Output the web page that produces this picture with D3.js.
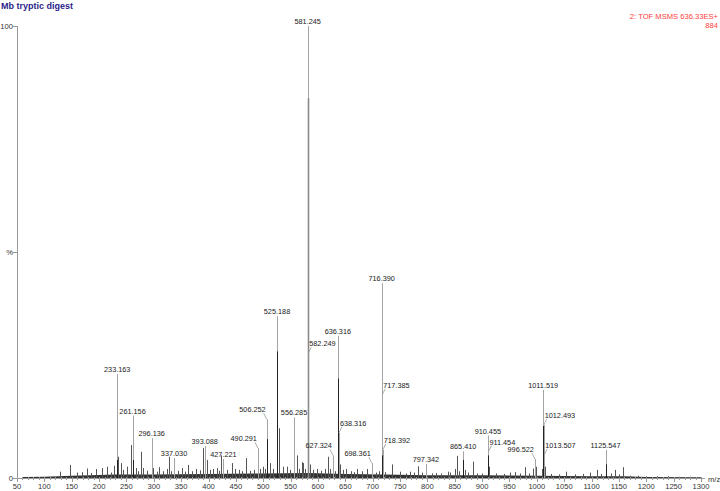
<!DOCTYPE html>
<html><head><meta charset="utf-8">
<script src="https://cdn.jsdelivr.net/npm/d3@7"></script>
<style>body{margin:0;background:#fff}svg{display:block;font-family:"Liberation Sans",Arial,sans-serif}</style>
</head><body><svg id="c" width="720" height="491"></svg>
<script>
// ---- data ----
const title = "Mb tryptic digest";
const infoLines = ["2: TOF MSMS 636.33ES+", "884"];
const xTicks = [50,100,150,200,250,300,350,400,450,500,550,600,650,700,750,800,850,900,950,1000,1050,1100,1150,1200,1250,1300];
const yTicks = [0,50,100];
const yTickLabels = ["0","%","100"];
// labelled peaks: m/z and relative intensity (%)
const peakMz  = [233.163,261.156,296.136,337.030,393.088,427.221,490.291,506.252,525.188,556.285,581.245,582.249,627.324,636.316,638.316,698.361,716.390,717.385,718.392,797.342,865.410,910.455,911.454,996.522,1011.519,1012.493,1013.507,1125.547];
const peakInt = [23.0,13.8,8.8,4.4,7.1,4.2,6.6,13.0,35.8,13.4,100,27.6,5.0,31.4,10.0,3.3,43.1,18.4,6.2,3.1,5.9,9.4,5.8,4.2,19.5,11.7,5.1,6.2];
// dark profile cores of the big peaks
const coreMz  = [581.0,525.15,636.2,1011.6,716.5,910.5,233.2,261.2,1125.6,865.4,506.3,717.5];
const coreInt = [84,28,22,11.5,4,5,4,4,3,4,8.6,5];
// small unlabelled peaks
const minorMz  = [128,147,160,168,178,186,195,205,215,222,227,235.3,239.5,244,250.5,258.3,262.5,266.9,272,276.6,281,288,299,305,310,316,323.5,328,332,345,351,357,363,370,378,384,390.4,396.6,402,408.7,415.9,420,423,434,443,448,455,461,468.5,476,483,494,499,503,512,518,529,536.6,543,549,561,566,570,572,577,585,591,598,605,612,618.7,622,631,640,645,652,660,666,672,680,690,706,712,719,723,736,750,760,768,775,783,790,808,815,825,838,842,850,853.4,857,868,875,883.7,890,900,913,926,940,951,961,970,979,985,993,998,1009,1014,1025,1040,1054,1070,1085,1097.6,1109.8,1118,1127,1135,1142.6,1150,1157.8,1170,1185,1200,1220,1240,1260,1280];
const minorInt = [1.4,2.9,1.2,1.3,2.1,1.1,2.0,2.2,2.5,1.2,2.7,4.7,3.3,1.8,2.5,7.3,2.5,2.2,1.5,5.8,2.2,1.6,2.2,1.4,2.4,1.5,2.0,4.7,1.5,1.6,2.2,1.4,2.9,1.5,2.0,1.7,6.6,4.0,1.8,2.0,2.2,1.6,5.0,1.8,3.3,2.0,1.8,1.5,4.4,1.6,1.8,2.0,2.5,2.0,3.3,2.0,11,2.5,2.5,1.8,5.0,2.0,3.5,3.3,2.0,3.0,1.8,2.0,1.6,2.0,4.7,2.0,1.5,3.0,1.8,2.0,1.5,1.3,2.0,1.5,2.0,1.2,1.5,4.0,1.3,3.0,1.4,1.0,1.4,1.2,2.6,1.2,1.0,1.1,1.0,1.4,1.2,2.0,4.9,1.5,1.8,1.2,3.6,1.0,1.0,2.5,1.0,0.9,1.2,1.3,1.0,2.4,1.0,2.1,2.5,2.0,2.5,0.9,0.8,1.4,0.8,0.9,1.2,1.8,0.9,3.0,1.0,1.8,0.8,2.4,0.5,0.5,0.4,0.4,0.4,0.3,0.3];
// baseline noise floor (%)
const noiseMz  = [60,100,150,230,300,400,500,580,650,720,800,900,1000,1100,1160,1200,1300];
const noiseInt = [0.2,0.3,0.5,0.8,0.8,0.9,1.0,1.1,0.9,0.8,0.6,0.6,0.5,0.4,0.4,0.2,0.15];
// label placement style: c = centred above, l = to the right with leader, r = to the left with leader
const labelMode = {"490.291":"r","506.252":"r","582.249":"l","627.324":"r","638.316":"l","698.361":"r","717.385":"l","718.392":"l","911.454":"l","996.522":"r","1012.493":"l","1013.507":"l"};

// ---- drawing ----
const svg = d3.select("#c");
const x = d3.scaleLinear().domain([50,1300]).range([17,701]);
const y = d3.scaleLinear().domain([0,100]).range([478,26]);
const fs = 7.3;
const px = v => Math.round(x(v)) + 0.5;

// title and info
svg.append("text").attr("x",1).attr("y",9).attr("font-size",9).attr("font-weight","bold").attr("fill","#2d1e8c").text(title);
infoLines.forEach((t,i)=>svg.append("text").attr("x",718).attr("y",19+i*9).attr("text-anchor","end").attr("font-size",7.6).attr("fill","#ff3b3b").text(t));

// noise floor
const area = d3.area().x((d,i)=>x(noiseMz[i])).y0(y(0)).y1((d,i)=>y(noiseInt[i]));
svg.append("path").datum(noiseMz).attr("d",area).attr("fill","#333");

// minor peaks
svg.append("g").selectAll("line").data(minorMz).join("line")
  .attr("x1",d=>px(d)).attr("x2",d=>px(d)).attr("y1",y(0)).attr("y2",(d,i)=>y(minorInt[i]))
  .attr("stroke","#555").attr("stroke-width",1);

// labelled peaks
svg.append("g").selectAll("line").data(peakMz).join("line")
  .attr("x1",d=>px(d)).attr("x2",d=>px(d)).attr("y1",y(0)).attr("y2",(d,i)=>y(peakInt[i]))
  .attr("stroke","#a4a4a4").attr("stroke-width",1);

// cores
svg.append("g").selectAll("line").data(coreMz).join("line")
  .attr("x1",d=>px(d)).attr("x2",d=>px(d)).attr("y1",y(0)).attr("y2",(d,i)=>y(coreInt[i]))
  .attr("stroke",(d,i)=>i===0?"#8a8a8a":"#222").attr("stroke-width",(d,i)=>i===0?1.6:1);

// labels
const lg = svg.append("g").attr("font-size",fs).attr("fill","#222");
peakMz.forEach((m,i)=>{
  const t = m.toFixed(3);
  const mode = labelMode[t] || "c";
  const X = x(m), Y = y(peakInt[i]);
  if(mode==="c"){
    lg.append("text").attr("x",X).attr("y",Y-2).attr("text-anchor","middle").text(t);
  } else {
    const s = mode==="l"?1:-1;
    const ty = Y-7;
    lg.append("text").attr("x",X+s*1).attr("y",ty).attr("text-anchor",mode==="l"?"start":"end").text(t);
    svg.append("line").attr("x1",X+s*3).attr("y1",ty+1).attr("x2",X).attr("y2",Y)
      .attr("stroke","#999").attr("stroke-width",0.8);
  }
});

// axes
const ax = svg.append("g").attr("stroke","#999").attr("stroke-width",1).attr("shape-rendering","crispEdges");
ax.append("line").attr("x1",17.5).attr("x2",17.5).attr("y1",y(100)).attr("y2",y(0));
ax.append("line").attr("x1",17).attr("x2",705).attr("y1",478.5).attr("y2",478.5);
d3.range(50,1301,10).forEach(v=>{
  const major = v%50===0;
  ax.append("line").attr("x1",px(v)).attr("x2",px(v)).attr("y1",477).attr("y2",major?482:480);
});
yTicks.forEach(v=>ax.append("line").attr("x1",13).attr("x2",17).attr("y1",Math.round(y(v))+0.5).attr("y2",Math.round(y(v))+0.5));

const tg = svg.append("g").attr("font-size",7.6).attr("fill","#333");
xTicks.forEach(v=>tg.append("text").attr("x",x(v)).attr("y",489).attr("text-anchor","middle").text(v));
yTicks.forEach((v,i)=>tg.append("text").attr("x",13).attr("y",y(v)+2.6).attr("text-anchor","end").text(yTickLabels[i]));
tg.append("text").attr("x",708).attr("y",482).text("m/z");
</script></body></html>
